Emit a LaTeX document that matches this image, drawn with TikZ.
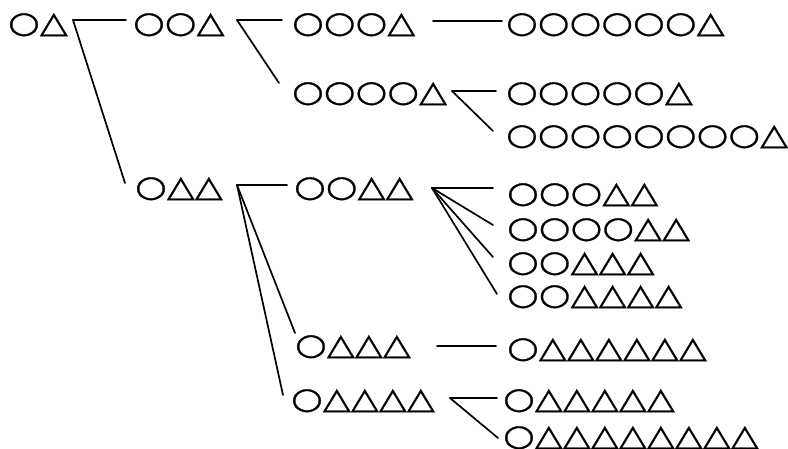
\documentclass[tikz,border=0pt]{standalone}
\usepackage{fontspec}
\newfontfamily\shapefont[FakeStretch=1.21,FakeBold=1.0,LetterSpace=0.6]{DejaVu Sans}
\begin{document}
\begin{tikzpicture}[x=1pt,y=-1pt,
  lbl/.style={anchor=base west,inner sep=0pt,font=\shapefont\fontsize{29.9}{29.9}\selectfont},
  edge/.style={line width=1.7pt,line cap=round}]
\useasboundingbox (0,0) rectangle (788,448);
\node[lbl] (n1) at (8,32.5) {○△};
\node[lbl] (n2) at (133,32.5) {○○△};
\node[lbl] (n3) at (292,32.5) {○○○△};
\node[lbl] (n4) at (506,32.5) {○○○○○○△};
\node[lbl] (n5) at (292,101.5) {○○○○△};
\node[lbl] (n6) at (506,101.5) {○○○○○△};
\node[lbl] (n7) at (506,144.5) {○○○○○○○○△};
\node[lbl] (n8) at (135,196.5) {○△△};
\node[lbl] (n9) at (294,196.5) {○○△△};
\node[lbl] (n10) at (507,202.5) {○○○△△};
\node[lbl] (n11) at (507,237.5) {○○○○△△};
\node[lbl] (n12) at (507,271.5) {○○△△△};
\node[lbl] (n13) at (507,304.5) {○○△△△△};
\node[lbl] (n14) at (295,354.5) {○△△△};
\node[lbl] (n15) at (507,357.5) {○△△△△△△};
\node[lbl] (n16) at (291,408.5) {○△△△△};
\node[lbl] (n17) at (503,408.5) {○△△△△△};
\node[lbl] (n18) at (503,445.5) {○△△△△△△△△};
\coordinate (j1) at (73,20);
\coordinate (j2) at (237,20);
\coordinate (j3) at (433,21);
\coordinate (j5) at (452,91);
\coordinate (j8) at (237,185);
\coordinate (j9) at (432,188);
\coordinate (j14) at (437,346);
\coordinate (j16) at (450,398);
\draw[edge] (j1) -- ([shift={(-7,-12.5)}]n2.base west);
\draw[edge] (j1) -- ([shift={(-10,-13.5)}]n8.base west);
\draw[edge] (j2) -- ([shift={(-10,-12.5)}]n3.base west);
\draw[edge] (j2) -- ([shift={(-13,-18.5)}]n5.base west);
\draw[edge] (j3) -- ([shift={(-4,-11.5)}]n4.base west);
\draw[edge] (j5) -- ([shift={(-10,-10.5)}]n6.base west);
\draw[edge] (j5) -- ([shift={(-13,-13.5)}]n7.base west);
\draw[edge] (j8) -- ([shift={(-7,-11.5)}]n9.base west);
\draw[edge] (j8) -- ([shift={(0,-21.5)}]n14.base west);
\draw[edge] (j8) -- ([shift={(-8,-13.5)}]n16.base west);
\draw[edge] (j9) -- ([shift={(-14,-14.5)}]n10.base west);
\draw[edge] (j9) -- ([shift={(-14,-12.5)}]n11.base west);
\draw[edge] (j9) -- ([shift={(-14,-14.5)}]n12.base west);
\draw[edge] (j9) -- ([shift={(-10,-10.5)}]n13.base west);
\draw[edge] (j14) -- ([shift={(-11,-11.5)}]n15.base west);
\draw[edge] (j16) -- ([shift={(-6,-10.5)}]n17.base west);
\draw[edge] (j16) -- ([shift={(-5,-7.5)}]n18.base west);
\end{tikzpicture}
\end{document}
